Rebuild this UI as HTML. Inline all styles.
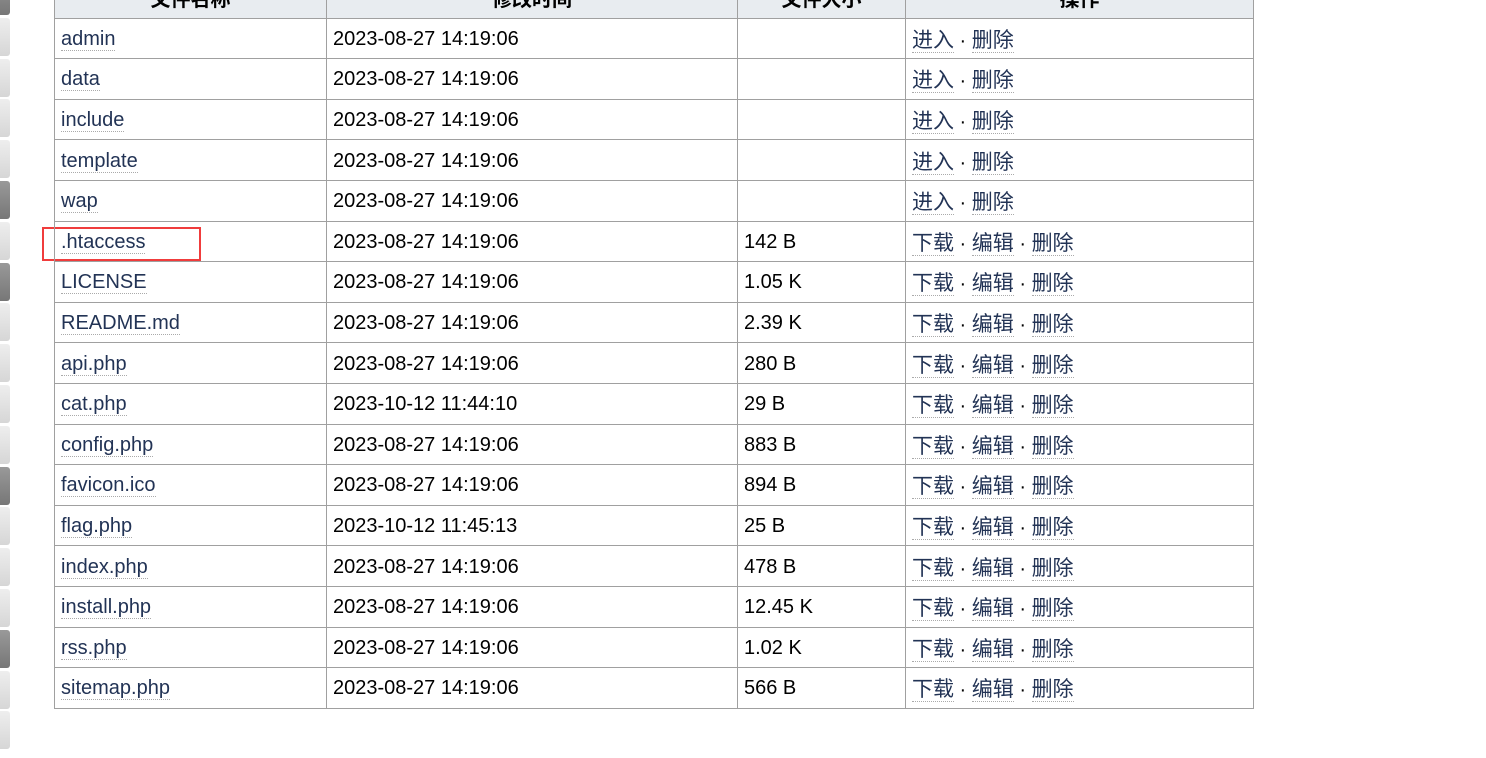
<!DOCTYPE html>
<html><head><meta charset="utf-8"><style>
body{margin:0;width:1486px;height:758px;background:#fff;overflow:hidden;position:relative;font-family:"Liberation Sans","Noto Sans CJK SC",sans-serif;}
#strip{position:absolute;left:0;top:0;width:11px;height:758px;}
#strip div{position:absolute;left:0;width:10px;height:38px;border-radius:0 3px 3px 0;background:linear-gradient(#eee,#d6d6d6);}
#strip div.dk{background:linear-gradient(#999,#777);}
table{position:absolute;left:54px;top:-23px;border-collapse:collapse;font-size:20px;}
td,th{border:1px solid #a0a0a0;height:40.6px;padding:2px 6px 0 6px;box-sizing:border-box;text-align:left;color:#000;white-space:nowrap;}
th{background:#e8ecf0;text-align:center;font-weight:bold;padding-top:0;}
a{color:#223355;text-decoration:none;border-bottom:1px dotted #aaa;}
td.act{font-size:21px;padding-top:1px;}
td.act span{font-size:20px;}
</style></head><body>
<div id="strip"></div>
<div style="position:absolute;left:42px;top:227px;width:159px;height:34px;border:2px solid #f03c3c;box-sizing:border-box;"></div>
<table>
<colgroup><col style="width:272px"><col style="width:411px"><col style="width:168px"><col style="width:348px"></colgroup>
<thead><tr>
<th>文件名称</th><th>修改时间</th><th>文件大小</th><th>操作</th></tr></thead>
<tbody id="tb"></tbody></table>
<script>
const dk=[0,5,7,12,16];
const strip=document.getElementById('strip');
for(let i=0;i<19;i++){const d=document.createElement('div');d.style.top=(i*40.8-23)+'px';if(dk.includes(i))d.className='dk';


strip.appendChild(d);}
const names=['admin','data','include','template','wap','.htaccess','LICENSE','README.md','api.php','cat.php','config.php','favicon.ico','flag.php','index.php','install.php','rss.php','sitemap.php'];
const times=['2023-08-27 14:19:06','2023-08-27 14:19:06','2023-08-27 14:19:06','2023-08-27 14:19:06','2023-08-27 14:19:06','2023-08-27 14:19:06','2023-08-27 14:19:06','2023-08-27 14:19:06','2023-08-27 14:19:06','2023-10-12 11:44:10','2023-08-27 14:19:06','2023-08-27 14:19:06','2023-10-12 11:45:13','2023-08-27 14:19:06','2023-08-27 14:19:06','2023-08-27 14:19:06','2023-08-27 14:19:06'];
const sizes=['','','','','','142 B','1.05 K','2.39 K','280 B','29 B','883 B','894 B','25 B','478 B','12.45 K','1.02 K','566 B'];
const tb=document.getElementById('tb');
names.forEach((n,i)=>{
const tr=document.createElement('tr');


const dir=i<5;
const acts=dir?['进入','删除']:['下载','编辑','删除'];
tr.innerHTML='<td><a href="#">'+n+'</a></td><td>'+times[i]+'</td><td>'+sizes[i]+'</td><td class="act">'+acts.map(a=>'<a href="#">'+a+'</a>').join('<span> · </span>')+'</td>';
tb.appendChild(tr);});
</script>
</body></html>
